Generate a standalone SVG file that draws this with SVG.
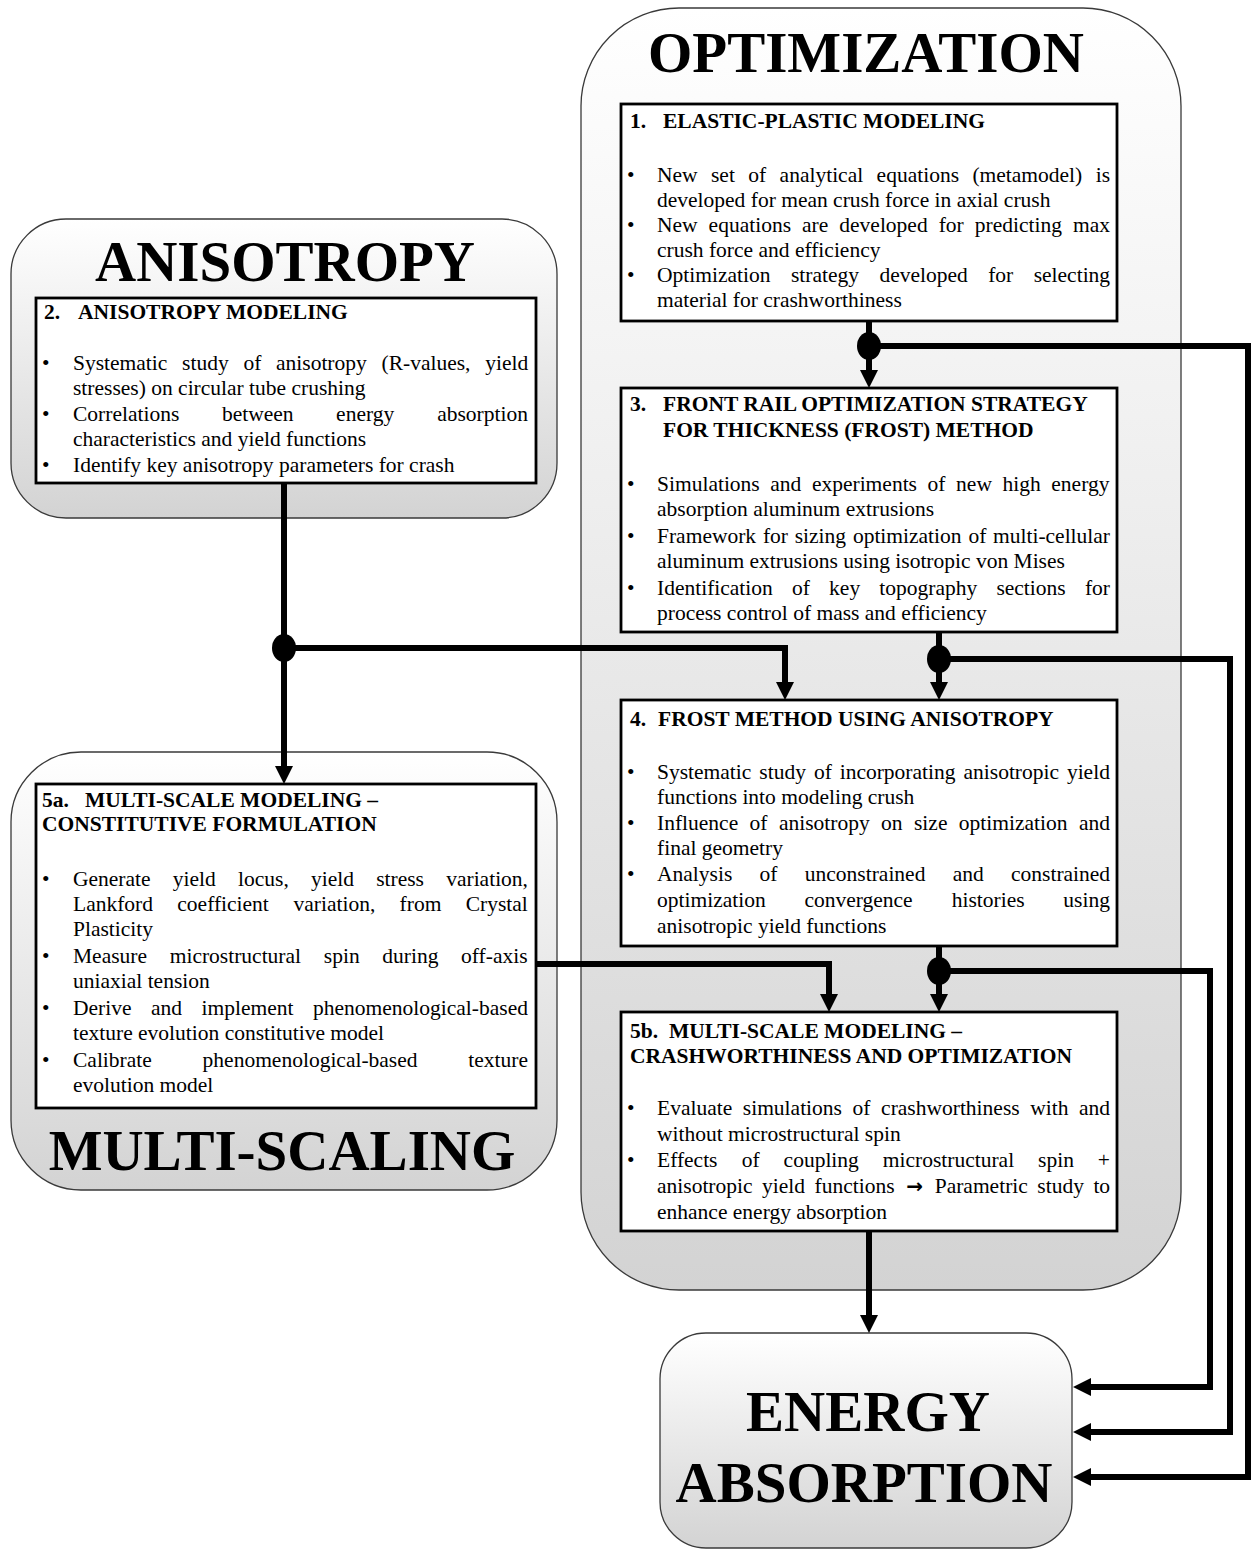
<svg xmlns="http://www.w3.org/2000/svg" width="1254" height="1550" viewBox="0 0 1254 1550">
<defs>
<linearGradient id="grad" x1="0" y1="0" x2="0" y2="1">
<stop offset="0" stop-color="#ffffff"/>
<stop offset="1" stop-color="#d3d3d3"/>
</linearGradient>
<marker id="arr" markerUnits="userSpaceOnUse" viewBox="0 0 18 18" refX="8" refY="9" markerWidth="18" markerHeight="18" orient="auto">
<path d="M0,0 L18,9 L0,18 z" fill="#000"/>
</marker>
<style>
.ctr { fill:url(#grad); stroke:#3a3a3a; stroke-width:1.3; }
.box { fill:#ffffff; stroke:#000; stroke-width:2.8; }
.big { font-family:"Liberation Serif","Times New Roman",serif; font-weight:bold; font-size:57px; text-anchor:middle; fill:#000; }
.t { font-family:"Liberation Serif","Times New Roman",serif; font-size:21.5px; fill:#000; }
.tb { font-weight:bold; }
.sym { font-family:"DejaVu Sans",sans-serif; font-weight:bold; font-size:20px; }
.conn { fill:none; stroke:#000; stroke-width:6; stroke-linejoin:miter; }
.arrow { marker-end:url(#arr); }
.dot { fill:#000; }
</style>
</defs>
<rect width="1254" height="1550" fill="#ffffff"/>

<g id="optimization">
<rect class="ctr" x="581" y="8" width="600" height="1282" rx="98" ry="98"/>
<text class="big" x="866" y="72">OPTIMIZATION</text>
</g>

<g id="anisotropy">
<rect class="ctr" x="11" y="219" width="546" height="299" rx="55" ry="55"/>
<text class="big" x="285" y="281">ANISOTROPY</text>
</g>

<g id="multiscaling">
<rect class="ctr" x="11" y="752" width="546" height="438" rx="70" ry="70"/>
<text class="big" x="282" y="1170">MULTI-SCALING</text>
</g>

<g id="energy">
<rect class="ctr" x="660" y="1333" width="412" height="215" rx="46" ry="46"/>
<text class="big" x="868" y="1431">ENERGY</text>
<text class="big" x="864" y="1502">ABSORPTION</text>
</g>

<g id="n1">
<rect class="box" x="621" y="104" width="496" height="217"/>
<text class="t tb" y="128"><tspan x="630">1.</tspan><tspan x="663">ELASTIC-PLASTIC MODELING</tspan></text>
<text class="t" x="627" y="182">•</text>
<text class="t" y="182"><tspan x="657">New</tspan><tspan x="711">set</tspan><tspan x="748.3">of</tspan><tspan x="779.6">analytical</tspan><tspan x="876.6">equations</tspan><tspan x="972.4">(metamodel)</tspan><tspan x="1095.7">is</tspan></text>
<text class="t" x="657" y="207">developed for mean crush force in axial crush</text>
<text class="t" x="627" y="232">•</text>
<text class="t" y="232"><tspan x="657">New</tspan><tspan x="708.6">equations</tspan><tspan x="802">are</tspan><tspan x="839.3">developed</tspan><tspan x="938.7">for</tspan><tspan x="974.8">predicting</tspan><tspan x="1073">max</tspan></text>
<text class="t" x="657" y="257">crush force and efficiency</text>
<text class="t" x="627" y="282">•</text>
<text class="t" y="282"><tspan x="657">Optimization</tspan><tspan x="790.9">strategy</tspan><tspan x="879.4">developed</tspan><tspan x="988.2">for</tspan><tspan x="1033.7">selecting</tspan></text>
<text class="t" x="657" y="307">material for crashworthiness</text>
</g>

<g id="n2">
<rect class="box" x="36" y="298" width="500" height="185"/>
<text class="t tb" y="319"><tspan x="44">2.</tspan><tspan x="78">ANISOTROPY MODELING</tspan></text>
<text class="t" x="42" y="370">•</text>
<text class="t" y="370"><tspan x="73">Systematic</tspan><tspan x="182.1">study</tspan><tspan x="243.4">of</tspan><tspan x="276">anisotropy</tspan><tspan x="381.5">(R-values,</tspan><tspan x="485.2">yield</tspan></text>
<text class="t" x="73" y="395">stresses) on circular tube crushing</text>
<text class="t" x="42" y="421">•</text>
<text class="t" y="421"><tspan x="73">Correlations</tspan><tspan x="221.9">between</tspan><tspan x="336.1">energy</tspan><tspan x="437.2">absorption</tspan></text>
<text class="t" x="73" y="446">characteristics and yield functions</text>
<text class="t" x="42" y="472">•</text>
<text class="t" x="73" y="472">Identify key anisotropy parameters for crash</text>
</g>

<g id="n3">
<rect class="box" x="621" y="388" width="496" height="244"/>
<text class="t tb" y="411"><tspan x="630">3.</tspan><tspan x="663">FRONT RAIL OPTIMIZATION STRATEGY</tspan></text>
<text class="t tb" x="663" y="437">FOR THICKNESS (FROST) METHOD</text>
<text class="t" x="627" y="491">•</text>
<text class="t" y="491"><tspan x="657">Simulations</tspan><tspan x="770.3">and</tspan><tspan x="811.9">experiments</tspan><tspan x="927.6">of</tspan><tspan x="956.1">new</tspan><tspan x="1002.5">high</tspan><tspan x="1051.3">energy</tspan></text>
<text class="t" x="657" y="516">absorption aluminum extrusions</text>
<text class="t" x="627" y="543">•</text>
<text class="t" y="543"><tspan x="657">Framework</tspan><tspan x="762.9">for</tspan><tspan x="794.7">sizing</tspan><tspan x="852.9">optimization</tspan><tspan x="968.4">of</tspan><tspan x="993">multi-cellular</tspan></text>
<text class="t" x="657" y="568">aluminum extrusions using isotropic von Mises</text>
<text class="t" x="627" y="595">•</text>
<text class="t" y="595"><tspan x="657">Identification</tspan><tspan x="792">of</tspan><tspan x="829.1">key</tspan><tspan x="879.3">topography</tspan><tspan x="996.4">sections</tspan><tspan x="1084.9">for</tspan></text>
<text class="t" x="657" y="620">process control of mass and efficiency</text>
</g>

<g id="n4">
<rect class="box" x="621" y="700" width="496" height="246"/>
<text class="t tb" y="726"><tspan x="630">4.</tspan><tspan x="658">FROST METHOD USING ANISOTROPY</tspan></text>
<text class="t" x="627" y="779">•</text>
<text class="t" y="779"><tspan x="657">Systematic</tspan><tspan x="759.3">study</tspan><tspan x="813.9">of</tspan><tspan x="839.7">incorporating</tspan><tspan x="963.5">anisotropic</tspan><tspan x="1066.9">yield</tspan></text>
<text class="t" x="657" y="804">functions into modeling crush</text>
<text class="t" x="627" y="830">•</text>
<text class="t" y="830"><tspan x="657">Influence</tspan><tspan x="749.6">of</tspan><tspan x="778.9">anisotropy</tspan><tspan x="881.1">on</tspan><tspan x="914">size</tspan><tspan x="958.8">optimization</tspan><tspan x="1078.9">and</tspan></text>
<text class="t" x="657" y="855">final geometry</text>
<text class="t" x="627" y="881">•</text>
<text class="t" y="881"><tspan x="657">Analysis</tspan><tspan x="759.6">of</tspan><tspan x="804.8">unconstrained</tspan><tspan x="952.7">and</tspan><tspan x="1011">constrained</tspan></text>
<text class="t" y="907"><tspan x="657">optimization</tspan><tspan x="804.4">convergence</tspan><tspan x="951.7">histories</tspan><tspan x="1063.3">using</tspan></text>
<text class="t" x="657" y="933">anisotropic yield functions</text>
</g>

<g id="n5a">
<rect class="box" x="36" y="784" width="500" height="324"/>
<text class="t tb" y="807"><tspan x="42">5a.</tspan><tspan x="85">MULTI-SCALE MODELING –</tspan></text>
<text class="t tb" x="42" y="831">CONSTITUTIVE FORMULATION</text>
<text class="t" x="42" y="886">•</text>
<text class="t" y="886"><tspan x="73">Generate</tspan><tspan x="172.8">yield</tspan><tspan x="238">locus,</tspan><tspan x="311">yield</tspan><tspan x="376.2">stress</tspan><tspan x="446.2">variation,</tspan></text>
<text class="t" y="911"><tspan x="73">Lankford</tspan><tspan x="177.3">coefficient</tspan><tspan x="293.5">variation,</tspan><tspan x="399.6">from</tspan><tspan x="465.7">Crystal</tspan></text>
<text class="t" x="73" y="936">Plasticity</text>
<text class="t" x="42" y="963">•</text>
<text class="t" y="963"><tspan x="73">Measure</tspan><tspan x="169.7">microstructural</tspan><tspan x="323.8">spin</tspan><tspan x="382.3">during</tspan><tspan x="461.1">off-axis</tspan></text>
<text class="t" x="73" y="988">uniaxial tension</text>
<text class="t" x="42" y="1015">•</text>
<text class="t" y="1015"><tspan x="73">Derive</tspan><tspan x="151">and</tspan><tspan x="201.5">implement</tspan><tspan x="313">phenomenological-based</tspan></text>
<text class="t" x="73" y="1040">texture evolution constitutive model</text>
<text class="t" x="42" y="1067">•</text>
<text class="t" y="1067"><tspan x="73">Calibrate</tspan><tspan x="202.6">phenomenological-based</tspan><tspan x="468.3">texture</tspan></text>
<text class="t" x="73" y="1092">evolution model</text>
</g>

<g id="n5b">
<rect class="box" x="621" y="1012" width="496" height="219"/>
<text class="t tb" y="1038"><tspan x="630">5b.</tspan><tspan x="669">MULTI-SCALE MODELING –</tspan></text>
<text class="t tb" x="630" y="1063">CRASHWORTHINESS AND OPTIMIZATION</text>
<text class="t" x="627" y="1115">•</text>
<text class="t" y="1115"><tspan x="657">Evaluate</tspan><tspan x="742.8">simulations</tspan><tspan x="852.6">of</tspan><tspan x="881.1">crashworthiness</tspan><tspan x="1030.2">with</tspan><tspan x="1079">and</tspan></text>
<text class="t" x="657" y="1141">without microstructural spin</text>
<text class="t" x="627" y="1167">•</text>
<text class="t" y="1167"><tspan x="657">Effects</tspan><tspan x="741.8">of</tspan><tspan x="783.6">coupling</tspan><tspan x="882.8">microstructural</tspan><tspan x="1038.1">spin</tspan><tspan x="1097.8">+</tspan></text>
<text class="t" y="1193"><tspan x="657">anisotropic</tspan><tspan x="762">yield</tspan><tspan x="814.5">functions</tspan><tspan class="sym" x="914.6" text-anchor="middle">→</tspan><tspan x="934.7">Parametric</tspan><tspan x="1037.3">study</tspan><tspan x="1093.4">to</tspan></text>
<text class="t" x="657" y="1219">enhance energy absorption</text>
</g>

<g id="connectors">
<path class="conn arrow" d="M869,321 V378"/>
<path class="conn arrow" d="M869,346 H1248 V1477 H1083"/>
<ellipse class="dot" cx="869" cy="346" rx="12" ry="14"/>
<path class="conn arrow" d="M939,632 V690"/>
<path class="conn arrow" d="M939,659 H1230 V1432 H1083"/>
<ellipse class="dot" cx="939" cy="659" rx="12" ry="14"/>
<path class="conn arrow" d="M939,946 V1002"/>
<path class="conn arrow" d="M939,971 H1210 V1387 H1083"/>
<ellipse class="dot" cx="939" cy="971" rx="12" ry="14"/>
<path class="conn arrow" d="M284,483 V774"/>
<path class="conn arrow" d="M284,648 H785 V690"/>
<ellipse class="dot" cx="284" cy="648" rx="12" ry="14"/>
<path class="conn arrow" d="M536,964 H829 V1002"/>
<path class="conn arrow" d="M869,1231 V1323"/>
</g>
</svg>
